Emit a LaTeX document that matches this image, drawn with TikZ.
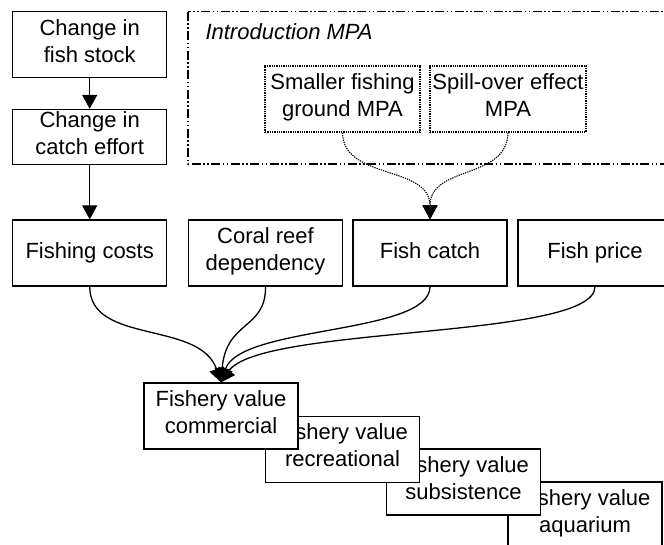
\documentclass[tikz,border=0pt]{standalone}
\usepackage{fontspec}
\setmainfont{Liberation Sans}
\usetikzlibrary{arrows.meta}

\begin{document}
\begin{tikzpicture}[x=1pt,y=-1pt,
  caja/.style={draw,line width=1.3pt,fill=white,align=center,inner sep=0pt,
    minimum width=154pt,minimum height=66pt,font=\fontsize{22}{27}\selectfont,
    execute at begin node=\strut,execute at end node=\strut},
  cajap/.style={caja,densely dotted,line width=1.5pt},
  flecha/.style={line width=1.3pt,-{Triangle[length=14pt,width=15pt]}},
  flechap/.style={flecha,densely dotted,line width=1.1pt}]
  \useasboundingbox (0,0) rectangle (664,545);

  % columna izquierda
  \node[caja,minimum height=66pt] (stock) at (89.7,44.7) {Change in\\fish stock};
  \node[caja,minimum height=55pt] (esfuerzo) at (89.7,137) {Change in\\catch effort};

  % introduccion MPA
  \draw[line width=1.4pt,dash pattern=on 9pt off 2.5pt on 1.5pt off 2.5pt on 1.5pt off 2.5pt]
        (188,11.7) rectangle (700,164);
  \node[anchor=west,font=\fontsize{22}{27}\selectfont\itshape] (intro) at (202,32) {Introduction MPA};
  \node[cajap,minimum width=155pt] (menor) at (342.5,99) {Smaller fishing\\ground MPA};
  \node[cajap,minimum width=156pt] (spill) at (508,99) {Spill-over effect\\MPA};

  % fila del medio
  \node[caja] (costos) at (89.7,253) {Fishing costs};
  \node[caja] (coral) at (265.5,253) {Coral reef\\dependency};
  \node[caja] (captura) at (430,253) {Fish catch};
  \node[caja] (precio) at (595,253) {Fish price};

  \draw[flecha] (stock) -- (esfuerzo);
  \draw[flecha] (esfuerzo) -- (costos);
  \draw[flechap] (menor.south) .. controls (343,180) and (430,165) .. (captura.north);
  \draw[flechap] (spill.south) .. controls (507,180) and (430,165) .. (captura.north);

  % valores, el orden importa
  \node[caja] (acuario) at (585,515) {Fishery value\\aquarium};
  \node[caja] (subsist) at (463.5,482) {Fishery value\\subsistence};
  \node[caja] (recreo) at (342.5,449.5) {Fishery value\\recreational};
  \node[caja] (comercial) at (221,416) {Fishery value\\commercial};

  \draw[flecha] (costos.south) .. controls (90,345) and (200,320) .. (comercial.north);
  \draw[flecha] (coral.south) .. controls (266,330) and (226,320) .. (comercial.north);
  \draw[flecha] (captura.south) .. controls (430,335) and (240,325) .. (comercial.north);
  \draw[flecha] (precio.south) .. controls (595,340) and (260,325) .. (comercial.north);
\end{tikzpicture}
\end{document}
